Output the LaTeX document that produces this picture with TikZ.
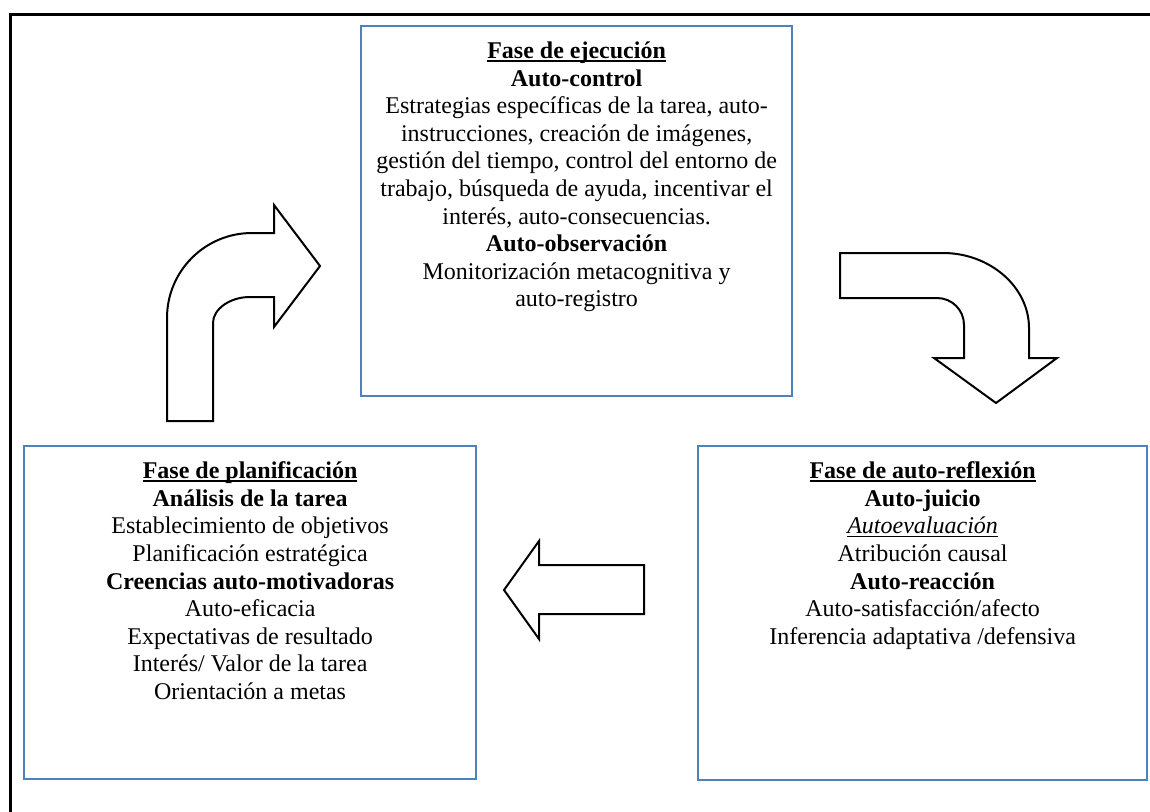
\documentclass[tikz,border=0pt]{standalone}
\usepackage{fontspec}
\setmainfont{Liberation Serif}[Ligatures={TeX,NoCommon}]
\usetikzlibrary{positioning}
\definecolor{boxblue}{HTML}{4F81BD}
\newcommand{\ulfix}[2][1.6pt]{\setbox0\hbox{#2}\rlap{\rule[-3.2pt]{\wd0}{#1}}\box0}
\begin{document}
\begin{tikzpicture}[x=1pt,y=-1pt,
  phase/.style={draw=boxblue, line width=2.2pt, fill=white, inner sep=0pt, anchor=north west},
  txt/.style={align=center, inner sep=0pt, font=\fontsize{24}{27.6}\selectfont},
  blockarrow/.style={draw=black, line width=2pt, fill=white, line join=miter}]
\useasboundingbox (0,0) rectangle (1150,811);
\fill[white] (0,0) rectangle (1150,811);
\draw[line width=3pt] (1170,14) -- (10,14) -- (10,830);

% boxes
\node[phase, minimum width=431pt, minimum height=370pt] (exec) at (360,25) {};
\node[phase, minimum width=452pt, minimum height=333pt] (plan) at (23,445) {};
\node[phase, minimum width=449pt, minimum height=334pt] (refl) at (697,445) {};

% texts
\node[txt, below=16.6pt of exec.north] (exectxt) {%
\ulfix{\textbf{Fase de ejecución}}\\
\textbf{Auto-control}\\
Estrategias específicas de la tarea, auto-\\
instrucciones, creación de imágenes,\\
gestión del tiempo, control del entorno de\\
trabajo, búsqueda de ayuda, incentivar el\\
interés, auto-consecuencias.\\
\textbf{Auto-observación}\\
Monitorización metacognitiva y\\
auto-registro};

\node[txt, below=16.6pt of plan.north] (plantxt) {%
\ulfix{\textbf{Fase de planificación}}\\
\textbf{Análisis de la tarea}\\
Establecimiento de objetivos\\
Planificación estratégica\\
\textbf{Creencias auto-motivadoras}\\
Auto-eficacia\\
Expectativas de resultado\\
Interés/ Valor de la tarea\\
Orientación a metas};

\node[txt, below=16.6pt of refl.north] (refltxt) {%
\ulfix{\textbf{Fase de auto-reflexión}}\\
\textbf{Auto-juicio}\\
\ulfix[1.3pt]{\textit{Autoevaluación}}\\
Atribución causal\\
\textbf{Auto-reacción}\\
Auto-satisfacción/afecto\\
Inferencia adaptativa /defensiva};

% block arrows
% up-right (planning -> execution)
\draw[blockarrow] (167,421) -- (167,318)
  .. controls (167,271) and (205,233) .. (252,233)
  -- (274,233) -- (274,205) -- (320,266) -- (274,327) -- (274,297) -- (250,297)
  .. controls (230,297) and (213,309) .. (213,323)
  -- (213,421) -- cycle;
% right-down (execution -> reflection)
\draw[blockarrow] (840,253) -- (943,253)
  .. controls (990,253) and (1029,287) .. (1029,328)
  -- (1029,358) -- (1057,358) -- (996,403) -- (934,358) -- (964,358) -- (964,325)
  .. controls (964,310) and (952,298) .. (937,298)
  -- (840,298) -- cycle;
% left (reflection -> planning)
\draw[blockarrow] (504,590) -- (539,541) -- (539,565) -- (644,565) -- (644,614)
  -- (539,614) -- (539,639) -- cycle;
\end{tikzpicture}
\end{document}
